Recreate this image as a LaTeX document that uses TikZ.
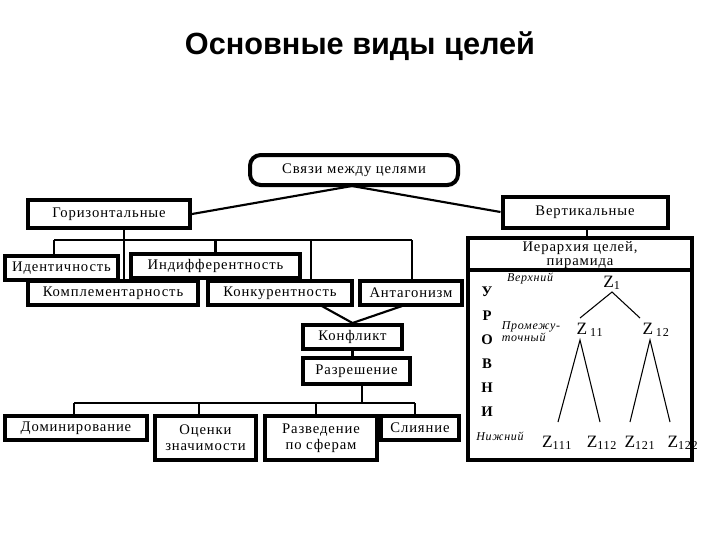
\documentclass[tikz,border=0pt]{standalone}
\usepackage{fontspec}
\setmainfont{Liberation Serif}[LetterSpace=6]
\newfontfamily\titlefont{Liberation Sans}
\usetikzlibrary{calc}
\begin{document}
\begin{tikzpicture}[x=0.75pt,y=-0.75pt,
  box/.style={draw,line width=3pt,inner sep=0pt,align=center,font=\fontsize{11}{12}\selectfont},
  ln/.style={line width=1.6pt},
  thin/.style={line width=0.8pt},
  lv/.style={font=\fontsize{11}{12}\selectfont\bfseries},
  it/.style={font=\fontsize{9}{9}\selectfont\itshape,align=left,inner sep=0pt},
  zz/.style={font=\fontsize{13}{13}\selectfont,inner sep=0pt}]
\useasboundingbox (0,0) rectangle (720,540);
\node[font=\titlefont\fontsize{23}{26}\selectfont\bfseries] (title) at (360,46) {Основные виды целей};
\node[box,rounded corners=8pt,minimum width=156pt,minimum height=22.5pt] (sv) at (354,170) {Связи между целями};
\node[box,minimum width=121.5pt,minimum height=21pt] (hor) at (109,214) {Горизонтальные};
\node[box,minimum width=123.75pt,minimum height=23.25pt] (ver) at (585,212) {Вертикальные};
\node[box,minimum width=84.75pt,minimum height=18pt] (ide) at (61.5,268) {Идентичность};
\node[box,minimum width=126.75pt,minimum height=18pt] (ind) at (215.5,266) {Индифферентность};
\node[box,minimum width=127.5pt,minimum height=18pt] (kom) at (113,293) {Комплементарность};
\node[box,minimum width=108pt,minimum height=18pt] (kon) at (280,293) {Конкурентность};
\node[box,minimum width=76.5pt,minimum height=18pt] (ant) at (411,293) {Антагонизм};
\node[box,minimum width=74.25pt,minimum height=18pt] (kfl) at (352.5,337) {Конфликт};
\node[box,minimum width=80.25pt,minimum height=19.5pt] (raz) at (356.5,371) {Разрешение};
\node[box,minimum width=106.5pt,minimum height=18pt] (dom) at (76,428) {Доминирование};
\node[box,minimum width=75.75pt,minimum height=33pt] (ots) at (205.5,438) {Оценки\\значимости};
\node[box,minimum width=84pt,minimum height=33pt] (rzv) at (321,438) {Разведение\\по сферам};
\node[box,minimum width=58.5pt,minimum height=18pt] (sli) at (420,428) {Слияние};
\node[box,minimum width=168pt,minimum height=166.5pt] (big) at (580,349) {};
\node[font=\fontsize{11}{10}\selectfont,align=center,inner sep=0pt] (hdr) at (580,255) {Иерархия целей,\\пирамида};
\draw[line width=2.4pt] (468,270) -- (692,270);
% top connectors
\coordinate (st) at (352,186);
\draw[ln] (st) -- (hor.east);
\draw[ln] (st) -- (ver.west);
\coordinate (hb1) at (54,240); \coordinate (hb2) at (412,240);
\coordinate (hd) at (124,240); \coordinate (kd) at (311,240);
\draw[ln] (hb1) -- (hb2);
\draw[ln] (hor.south -| hd) -- (hd |- kom.north);
\draw[ln] (hb1) -- (hb1 |- ide.north);
\draw[ln] (ind.north |- hb1) -- (ind.north);
\draw[ln] (kd) -- (kd |- kon.north);
\draw[ln] (hb2) -- (hb2 |- ant.north);
\coordinate (kc1) at (320,305); \coordinate (kc2) at (405,305);
\draw[ln] (kc1) -- (kfl.north) -- (kc2);
\draw[ln] (kfl.south) -- (kfl.south |- raz.north);
\coordinate (rb1) at (74,403); \coordinate (rb2) at (415,403);
\draw[ln] (rb1) -- (rb2);
\draw[ln] (raz.south -| 362,0) -- (362,403);
\draw[ln] (rb1) -- (rb1 |- dom.north);
\draw[ln] (199,403) -- (199,416);
\draw[ln] (316,403) -- (316,416);
\draw[ln] (rb2) -- (rb2 |- sli.north);
\draw[ln] (ver.south -| 587,0) -- (587,238);
% levels
\foreach \l [count=\i] in {У,Р,О,В,Н,И}
  \node[lv] (l\i) at (487,268+24*\i) {\l};
\node[it] (up) at (530,278) {Верхний};
\node[it] (mid) at (531,332) {Промежу-\\точный};
\node[it] (low) at (500,436) {Нижний};
\node[zz] (z1) at (612,283) {Z\textsubscript{1}};
\node[zz] (z11) at (590,330) {Z\,\textsubscript{11}};
\node[zz] (z12) at (656,330) {Z\,\textsubscript{12}};
\node[zz] (z111) at (557,443) {Z\textsubscript{111}};
\node[zz] (z112) at (602,443) {Z\textsubscript{112}};
\node[zz] (z121) at (640,443) {Z\textsubscript{121}};
\node[zz] (z122) at (683,443) {Z\textsubscript{122}};
\coordinate (a1) at (612,292);
\draw[thin] (580,318) -- (a1) -- (640,318);
\coordinate (a11) at (580,340); \coordinate (a12) at (650,340);
\draw[thin] (558,422) -- (a11) -- (600,422);
\draw[thin] (630,422) -- (a12) -- (670,422);
\end{tikzpicture}
\end{document}
